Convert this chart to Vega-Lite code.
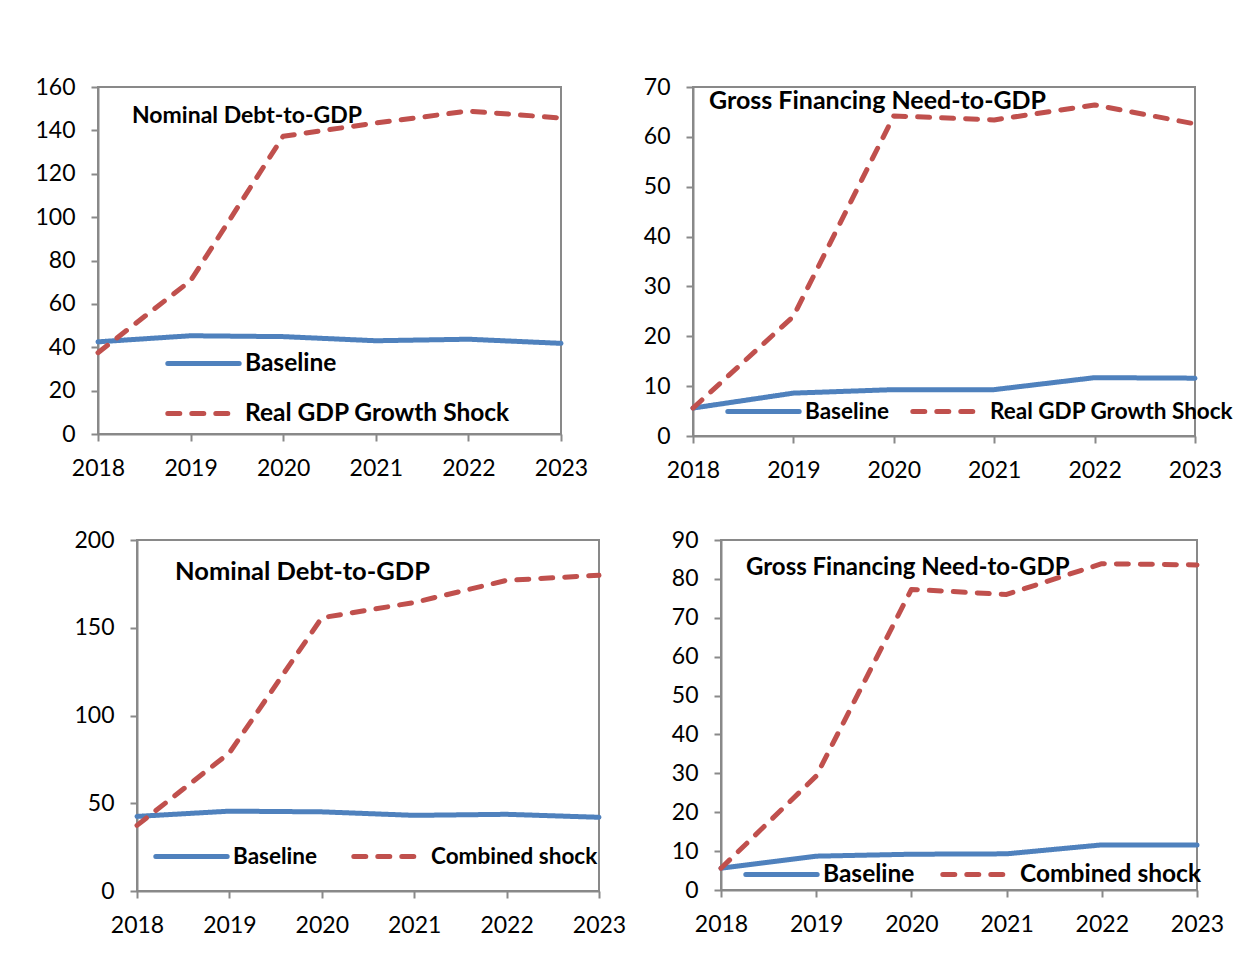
{
  "$schema": "https://vega.github.io/schema/vega-lite/v6.json",
  "background": "white",
  "padding": {"left": 0, "top": 75, "right": 0, "bottom": 0},
  "config": {
    "font": "Lato",
    "view": {"stroke": "#898989", "strokeWidth": 2},
    "axis": {"domainColor": "#898989", "domainWidth": 2, "tickColor": "#898989", "tickWidth": 2, "tickSize": 7, "labelFont": "Lato", "labelFontSize": 23, "labelColor": "black", "grid": false, "title": null, "labelPadding": 16},
    "legend": {"title": null, "symbolType": "stroke", "symbolSize": 5100, "symbolStrokeWidth": 5, "labelFont": "Lato", "labelFontWeight": "bold", "labelColor": "black", "labelOffset": 3, "labelLimit": 400, "padding": 0, "orient": "none"},
    "title": {"anchor": "start", "frame": "group", "offset": 0, "baseline": "alphabetic", "font": "Lato", "fontWeight": "bold", "color": "black"}
  },
  "datasets": {
    "d": [
      {"panel": "p1", "series": "Baseline", "year": "2018", "value": 42.5},
      {"panel": "p1", "series": "Baseline", "year": "2019", "value": 45.3},
      {"panel": "p1", "series": "Baseline", "year": "2020", "value": 44.9},
      {"panel": "p1", "series": "Baseline", "year": "2021", "value": 43.0},
      {"panel": "p1", "series": "Baseline", "year": "2022", "value": 43.7},
      {"panel": "p1", "series": "Baseline", "year": "2023", "value": 41.8},
      {"panel": "p1", "series": "Real GDP Growth Shock", "year": "2018", "value": 37.5},
      {"panel": "p1", "series": "Real GDP Growth Shock", "year": "2019", "value": 70.7},
      {"panel": "p1", "series": "Real GDP Growth Shock", "year": "2020", "value": 137.3},
      {"panel": "p1", "series": "Real GDP Growth Shock", "year": "2021", "value": 143.4},
      {"panel": "p1", "series": "Real GDP Growth Shock", "year": "2022", "value": 148.9},
      {"panel": "p1", "series": "Real GDP Growth Shock", "year": "2023", "value": 145.7},
      {"panel": "p2", "series": "Baseline", "year": "2018", "value": 5.6},
      {"panel": "p2", "series": "Baseline", "year": "2019", "value": 8.6},
      {"panel": "p2", "series": "Baseline", "year": "2020", "value": 9.3},
      {"panel": "p2", "series": "Baseline", "year": "2021", "value": 9.3},
      {"panel": "p2", "series": "Baseline", "year": "2022", "value": 11.7},
      {"panel": "p2", "series": "Baseline", "year": "2023", "value": 11.6},
      {"panel": "p2", "series": "Real GDP Growth Shock", "year": "2018", "value": 5.6},
      {"panel": "p2", "series": "Real GDP Growth Shock", "year": "2019", "value": 24.0},
      {"panel": "p2", "series": "Real GDP Growth Shock", "year": "2020", "value": 64.2},
      {"panel": "p2", "series": "Real GDP Growth Shock", "year": "2021", "value": 63.4},
      {"panel": "p2", "series": "Real GDP Growth Shock", "year": "2022", "value": 66.4},
      {"panel": "p2", "series": "Real GDP Growth Shock", "year": "2023", "value": 62.6},
      {"panel": "p3", "series": "Baseline", "year": "2018", "value": 42.5},
      {"panel": "p3", "series": "Baseline", "year": "2019", "value": 45.5},
      {"panel": "p3", "series": "Baseline", "year": "2020", "value": 45.1},
      {"panel": "p3", "series": "Baseline", "year": "2021", "value": 43.1},
      {"panel": "p3", "series": "Baseline", "year": "2022", "value": 43.7},
      {"panel": "p3", "series": "Baseline", "year": "2023", "value": 42.0},
      {"panel": "p3", "series": "Combined shock", "year": "2018", "value": 37.4},
      {"panel": "p3", "series": "Combined shock", "year": "2019", "value": 78.7},
      {"panel": "p3", "series": "Combined shock", "year": "2020", "value": 155.7},
      {"panel": "p3", "series": "Combined shock", "year": "2021", "value": 164.4},
      {"panel": "p3", "series": "Combined shock", "year": "2022", "value": 177.0},
      {"panel": "p3", "series": "Combined shock", "year": "2023", "value": 179.9},
      {"panel": "p4", "series": "Baseline", "year": "2018", "value": 5.6},
      {"panel": "p4", "series": "Baseline", "year": "2019", "value": 8.7},
      {"panel": "p4", "series": "Baseline", "year": "2020", "value": 9.2},
      {"panel": "p4", "series": "Baseline", "year": "2021", "value": 9.3},
      {"panel": "p4", "series": "Baseline", "year": "2022", "value": 11.6},
      {"panel": "p4", "series": "Baseline", "year": "2023", "value": 11.6},
      {"panel": "p4", "series": "Combined shock", "year": "2018", "value": 5.6},
      {"panel": "p4", "series": "Combined shock", "year": "2019", "value": 29.3},
      {"panel": "p4", "series": "Combined shock", "year": "2020", "value": 77.3},
      {"panel": "p4", "series": "Combined shock", "year": "2021", "value": 76.0},
      {"panel": "p4", "series": "Combined shock", "year": "2022", "value": 83.9},
      {"panel": "p4", "series": "Combined shock", "year": "2023", "value": 83.6}
    ]
  },
  "data": {"name": "d"},
  "spacing": 45,
  "resolve": {"scale": {"color": "independent", "strokeDash": "independent", "x": "independent", "y": "independent"}, "legend": {"color": "independent", "strokeDash": "independent"}},
  "vconcat": [
    {
      "spacing": 43,
      "resolve": {"scale": {"color": "independent", "strokeDash": "independent", "x": "independent", "y": "independent"}, "legend": {"color": "independent", "strokeDash": "independent"}},
      "hconcat": [
        {
          "width": 463, "height": 347,
          "title": {"text": "Nominal Debt-to-GDP", "dx": 34, "dy": 56, "fontSize": 23},
          "transform": [{"filter": "datum.panel === 'p1'"}],
          "mark": {"type": "line", "strokeWidth": 5, "strokeCap": "round", "strokeJoin": "round"},
          "encoding": {
            "x": {"field": "year", "type": "ordinal", "scale": {"type": "point", "padding": 0}, "axis": {"labelAngle": 0}},
            "y": {"field": "value", "type": "quantitative", "scale": {"domain": [0, 160], "nice": false}, "axis": {"values": [0, 20, 40, 60, 80, 100, 120, 140, 160], "minExtent": 97}},
            "color": {"field": "series", "type": "nominal", "scale": {"domain": ["Baseline", "Real GDP Growth Shock"], "range": ["#4F81BD", "#C0504D"]},
              "legend": {"direction": "vertical", "legendX": 67, "legendY": 238, "rowPadding": -3, "labelFontSize": 24.5, "encode": {"symbols": {"update": {"strokeCap": {"value": "round"}}}}}},
            "strokeDash": {"field": "series", "type": "nominal", "scale": {"domain": ["Baseline", "Real GDP Growth Shock"], "range": [[1, 0], [12, 12]]},
              "legend": {"direction": "vertical", "legendX": 67, "legendY": 238, "rowPadding": -3, "labelFontSize": 24.5, "encode": {"symbols": {"update": {"strokeCap": {"value": "round"}}}}}}
          }
        },
        {
          "width": 502, "height": 349,
          "title": {"text": "Gross Financing Need-to-GDP", "dx": 16, "dy": 42, "fontSize": 25},
          "transform": [{"filter": "datum.panel === 'p2'"}],
          "mark": {"type": "line", "strokeWidth": 5, "strokeCap": "round", "strokeJoin": "round"},
          "encoding": {
            "x": {"field": "year", "type": "ordinal", "scale": {"type": "point", "padding": 0}, "axis": {"labelAngle": 0}},
            "y": {"field": "value", "type": "quantitative", "scale": {"domain": [0, 70], "nice": false}, "axis": {"values": [0, 10, 20, 30, 40, 50, 60, 70], "minExtent": 60}},
            "color": {"field": "series", "type": "nominal", "scale": {"domain": ["Baseline", "Real GDP Growth Shock"], "range": ["#4F81BD", "#C0504D"]},
              "legend": {"direction": "horizontal", "legendX": 32, "legendY": 286, "columnPadding": 13, "labelFontSize": 22.5, "encode": {"symbols": {"update": {"strokeCap": {"value": "round"}}}}}},
            "strokeDash": {"field": "series", "type": "nominal", "scale": {"domain": ["Baseline", "Real GDP Growth Shock"], "range": [[1, 0], [12, 12]]},
              "legend": {"direction": "horizontal", "legendX": 32, "legendY": 286, "columnPadding": 13, "labelFontSize": 22.5, "encode": {"symbols": {"update": {"strokeCap": {"value": "round"}}}}}}
          }
        }
      ]
    },
    {
      "spacing": 33,
      "resolve": {"scale": {"color": "independent", "strokeDash": "independent", "x": "independent", "y": "independent"}, "legend": {"color": "independent", "strokeDash": "independent"}},
      "hconcat": [
        {
          "spacing": -29,
          "resolve": {"scale": {"color": "independent", "strokeDash": "independent", "x": "independent", "y": "independent"}, "legend": {"color": "independent", "strokeDash": "independent"}},
          "hconcat": [
            {
              "width": 1, "height": 351,
              "view": {"stroke": null},
              "transform": [{"filter": "false"}],
              "mark": {"type": "point", "opacity": 0},
              "encoding": {}
            },
            {
              "width": 462, "height": 351,
              "title": {"text": "Nominal Debt-to-GDP", "dx": 38, "dy": 60, "fontSize": 25.5},
              "transform": [{"filter": "datum.panel === 'p3'"}],
              "mark": {"type": "line", "strokeWidth": 5, "strokeCap": "round", "strokeJoin": "round"},
              "encoding": {
                "x": {"field": "year", "type": "ordinal", "scale": {"type": "point", "padding": 0}, "axis": {"labelAngle": 0}},
                "y": {"field": "value", "type": "quantitative", "scale": {"domain": [0, 200], "nice": false}, "axis": {"values": [0, 50, 100, 150, 200], "minExtent": 66}},
                "color": {"field": "series", "type": "nominal", "scale": {"domain": ["Baseline", "Combined shock"], "range": ["#4F81BD", "#C0504D"]},
                  "legend": {"direction": "horizontal", "legendX": 16, "legendY": 278, "columnPadding": 26, "labelFontSize": 22.5, "encode": {"symbols": {"update": {"strokeCap": {"value": "round"}}}}}},
                "strokeDash": {"field": "series", "type": "nominal", "scale": {"domain": ["Baseline", "Combined shock"], "range": [[1, 0], [12, 12]]},
                  "legend": {"direction": "horizontal", "legendX": 16, "legendY": 278, "columnPadding": 26, "labelFontSize": 22.5, "encode": {"symbols": {"update": {"strokeCap": {"value": "round"}}}}}}
              }
            }
          ]
        },
        {
          "width": 476, "height": 350,
          "title": {"text": "Gross Financing Need-to-GDP", "dx": 25, "dy": 55, "fontSize": 24},
          "transform": [{"filter": "datum.panel === 'p4'"}],
          "mark": {"type": "line", "strokeWidth": 5, "strokeCap": "round", "strokeJoin": "round"},
          "encoding": {
            "x": {"field": "year", "type": "ordinal", "scale": {"type": "point", "padding": 0}, "axis": {"labelAngle": 0}},
            "y": {"field": "value", "type": "quantitative", "scale": {"domain": [0, 90], "nice": false}, "axis": {"values": [0, 10, 20, 30, 40, 50, 60, 70, 80, 90], "minExtent": 60}},
            "color": {"field": "series", "type": "nominal", "scale": {"domain": ["Baseline", "Combined shock"], "range": ["#4F81BD", "#C0504D"]},
              "legend": {"direction": "horizontal", "legendX": 22, "legendY": 296, "columnPadding": 17, "labelFontSize": 24.5, "encode": {"symbols": {"update": {"strokeCap": {"value": "round"}}}}}},
            "strokeDash": {"field": "series", "type": "nominal", "scale": {"domain": ["Baseline", "Combined shock"], "range": [[1, 0], [12, 12]]},
              "legend": {"direction": "horizontal", "legendX": 22, "legendY": 296, "columnPadding": 17, "labelFontSize": 24.5, "encode": {"symbols": {"update": {"strokeCap": {"value": "round"}}}}}}
          }
        }
      ]
    }
  ]
}
